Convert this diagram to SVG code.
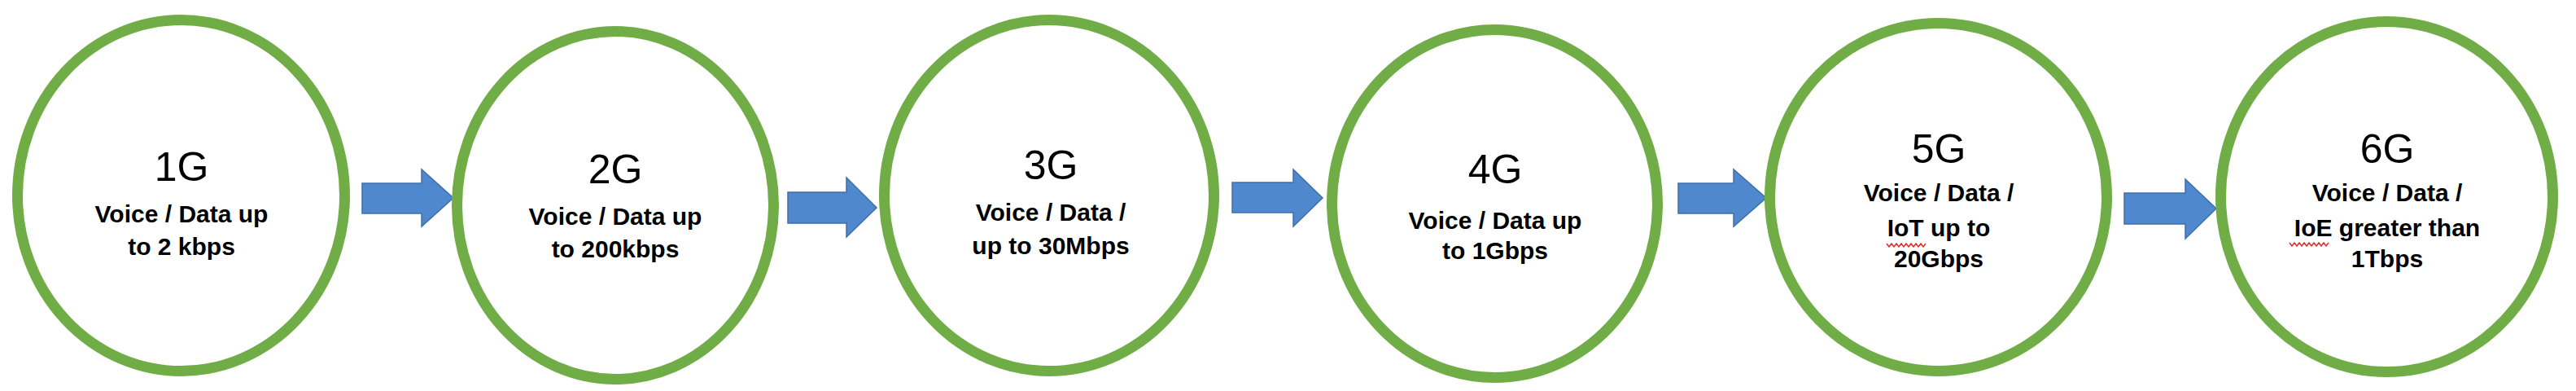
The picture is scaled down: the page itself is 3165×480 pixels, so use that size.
<svg xmlns="http://www.w3.org/2000/svg" width="3165" height="480" viewBox="0 0 3165 480">
<style>
.ring{fill:#ffffff;stroke:#70ad47;stroke-width:13}
.arrow{fill:#4f88cc;stroke:#3f6fa8;stroke-width:1.5;stroke-linejoin:miter}
.title{font-family:"Liberation Sans",Arial,sans-serif;font-size:50px;fill:#000;text-anchor:middle}
.body{font-family:"Liberation Sans",Arial,sans-serif;font-size:30px;font-weight:bold;fill:#000;text-anchor:middle}
.squig{fill:none;stroke:#e03030;stroke-width:1.5}
</style>
<rect x="0" y="0" width="3165" height="480" fill="#ffffff"/>
<g id="connectors">
<path class="arrow" d="M445,225 H518 V208 L557,243 L518,278 V262 H445 Z"/>
<path class="arrow" d="M968,236 H1040 V218 L1077,255 L1040,291 V274 H968 Z"/>
<path class="arrow" d="M1514,224 H1589 V208 L1625,243 L1589,278 V261 H1514 Z"/>
<path class="arrow" d="M2062,225 H2130 V208 L2170,243 L2130,278 V262 H2062 Z"/>
<path class="arrow" d="M2610,237 H2685 V220 L2723,256 L2685,293 V275 H2610 Z"/>
</g>
<g id="node-1g">
<ellipse class="ring" cx="222.5" cy="240" rx="201" ry="215.5"/>
<text class="title" x="223" y="222">1G</text>
<text class="body" x="223" y="273">Voice / Data up</text>
<text class="body" x="223" y="313">to 2 kbps</text>
</g>
<g id="node-2g">
<ellipse class="ring" cx="756" cy="252" rx="194.5" ry="213.5"/>
<text class="title" x="756" y="225">2G</text>
<text class="body" x="756" y="276">Voice / Data up</text>
<text class="body" x="756" y="316">to 200kbps</text>
</g>
<g id="node-3g">
<ellipse class="ring" cx="1289" cy="240" rx="202.5" ry="215.5"/>
<text class="title" x="1291" y="220">3G</text>
<text class="body" x="1291" y="271">Voice / Data /</text>
<text class="body" x="1291" y="312">up to 30Mbps</text>
</g>
<g id="node-4g">
<ellipse class="ring" cx="1836.5" cy="250" rx="200" ry="213.5"/>
<text class="title" x="1837" y="225">4G</text>
<text class="body" x="1837" y="281">Voice / Data up</text>
<text class="body" x="1837" y="318">to 1Gbps</text>
</g>
<g id="node-5g">
<ellipse class="ring" cx="2381.5" cy="242" rx="207" ry="213.5"/>
<text class="title" x="2382" y="200">5G</text>
<text class="body" x="2382" y="247">Voice / Data /</text>
<text class="body" x="2382" y="290">IoT up to</text>
<text class="body" x="2382" y="328">20Gbps</text>
<path class="squig" d="M2318,299 l3,4 l3,-4 l3,4 l3,-4 l3,4 l3,-4 l3,4 l3,-4 l3,4 l3,-4 l3,4 l3,-4 l3,4 l3,-4 l3,4 l3,-4"/>
</g>
<g id="node-6g">
<ellipse class="ring" cx="2932.5" cy="241.5" rx="204" ry="215"/>
<text class="title" x="2933" y="200">6G</text>
<text class="body" x="2933" y="247">Voice / Data /</text>
<text class="body" x="2933" y="290">IoE greater than</text>
<text class="body" x="2933" y="328">1Tbps</text>
<path class="squig" d="M2813,298 l3,4 l3,-4 l3,4 l3,-4 l3,4 l3,-4 l3,4 l3,-4 l3,4 l3,-4 l3,4 l3,-4 l3,4 l3,-4 l3,4 l3,-4"/>
</g>
</svg>
